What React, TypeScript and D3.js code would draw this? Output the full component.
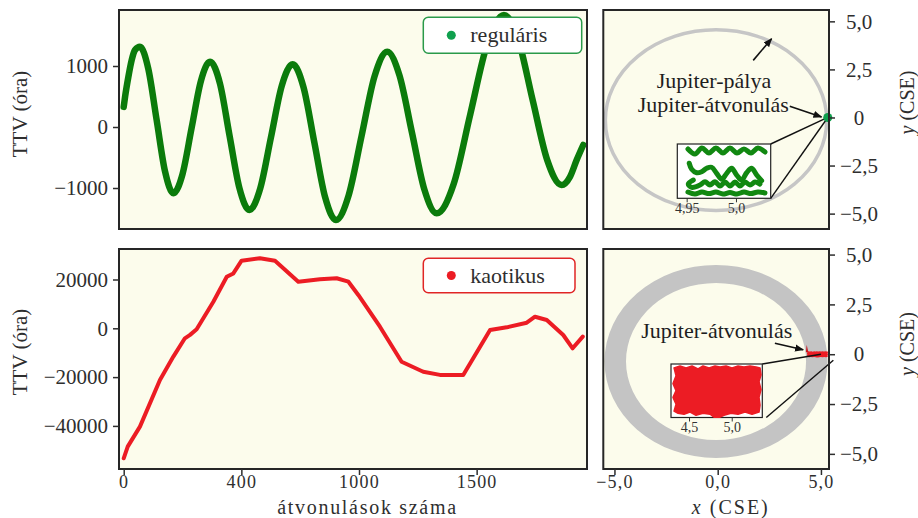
import React, { useEffect, useRef } from 'react';
import * as d3 from 'd3';

// regular system: transit number -> TTV (hours)
const regularN = [0, 6, 20, 34, 48, 69, 104, 140, 176, 211, 250, 289, 328, 367, 409, 450, 492, 534, 580, 626, 672, 718, 764, 810, 856, 902, 956, 1011, 1066, 1120, 1172, 1225, 1278, 1330, 1402, 1473, 1545, 1616, 1677, 1738, 1800, 1861, 1897, 1925, 1953];
const regularTTV = [330, 500, 826, 1098, 1262, 1316, 964, 114, -735, -1087, -771, -8, 754, 1070, 714, -145, -1004, -1360, -1010, -166, 678, 1028, 654, -248, -1151, -1525, -1121, -146, 830, 1234, 846, -90, -1027, -1415, -939, 210, 1360, 1836, 1428, 442, -543, -951, -815, -541, -295];

// chaotic system
const chaoticN = [0, 17, 69, 154, 211, 260, 282, 310, 381, 438, 466, 501, 579, 643, 742, 834, 905, 955, 997, 1089, 1181, 1273, 1344, 1443, 1557, 1628, 1713, 1748, 1798, 1868, 1908, 1951];
const chaoticTTV = [-53280, -48500, -40300, -21200, -11600, -4100, -2700, -400, 10900, 21100, 22500, 27700, 28700, 27700, 19100, 20100, 20500, 19100, 13650, 660, -13700, -17800, -19100, -19100, -700, 400, 2300, 4750, 3400, -2750, -8200, -3400];

// tick values / labels
const regTicks = [-1000, 0, 1000];
const regTickLabels = ['\u22121000', '0', '1000'];
const chaTicks = [-40000, -20000, 0, 20000];
const chaTickLabels = ['\u221240000', '\u221220000', '0', '20000'];
const transitTicks = [0, 500, 1000, 1500];
const transitTickLabels = ['0', '400', '1000', '1500'];
const posYTicks = [-5, -2.5, 0, 2.5, 5];
const posYTickLabels = ['\u22125,0', '\u22122,5', '0', '2,5', '5,0'];
const posXTicks = [-5, 0, 5];
const posXTickLabels = ['\u22125,0', '0,0', '5,0'];
const insetTopTicks = [4.95, 5.0];
const insetTopTickLabels = ['4,95', '5,0'];
const insetBotTicks = [4.5, 5.0];
const insetBotTickLabels = ['4,5', '5,0'];

// orbits (CSE): centre and radii
const orbitTopCenter = [-0.08, -0.14];
const orbitTopRadii = [5.36, 4.7];
const ringBotCenter = [-0.08, -0.36];
const ringBotOuter = [5.4, 4.84];
const ringBotInner = [4.36, 3.94];

// Jupiter position at transit, regular case
const jupiterRegular = [5.33, 0];
// zoomed Jupiter positions, regular case (x, y in CSE)
const insetRow1 = [[4.9513, 0.0222], [4.9584, 0.0172], [4.9655, 0.0232], [4.9726, 0.0182], [4.9797, 0.0232], [4.9868, 0.0182], [4.9939, 0.0232], [5.001, 0.0182], [5.0081, 0.0222], [5.0152, 0.0182], [5.0223, 0.0232], [5.0294, 0.0192]];
const insetRow2 = [[4.9526, 0.0079], [4.9551, 0.0019], [4.9601, -0.0016], [4.9652, -0.0006], [4.9703, 0.0029], [4.9753, 0.0039], [4.9804, -0.0022], [4.9855, -0.0082], [4.9906, -0.0022], [4.9956, 0.0029], [5.0007, -0.0039], [5.0058, -0.0089], [5.0108, -0.0016], [5.0159, 0.0029], [5.021, -0.0039], [5.026, -0.0096]];
const insetRow3 = [[4.9567, -0.0089], [4.9516, -0.0129], [4.9551, -0.0162], [4.9635, -0.0139], [4.9686, -0.0106], [4.9736, -0.0139], [4.9787, -0.0106], [4.9838, -0.0149], [4.9889, -0.0109], [4.9939, -0.0149], [4.999, -0.0109], [5.004, -0.0149], [5.0091, -0.0109], [5.0142, -0.0139], [5.0193, -0.0109], [5.0243, -0.0129]];
const insetRow4 = [[4.9513, -0.0209], [4.9584, -0.0229], [4.9655, -0.0209], [4.9726, -0.0224], [4.9797, -0.0209], [4.9868, -0.0229], [4.9939, -0.0214], [5.001, -0.0229], [5.0081, -0.0209], [5.0152, -0.0224], [5.0223, -0.0209], [5.0294, -0.0219]];

// chaotic case: outline of Jupiter transit positions (x, y in CSE)
const chaoticCloud = [
  [4.3244, 0.136], [4.3946, 0.148], [4.4649, 0.136], [4.5351, 0.148], [4.6054, 0.13], [4.6639, 0.148], [4.7342, 0.136], [4.8044, 0.148], [4.863, 0.142], [4.9333, 0.148], [5.0035, 0.136], [5.0738, 0.148], [5.144, 0.142], [5.2143, 0.148], [5.2845, 0.142], [5.3314, 0.136],
  [5.3431, 0.093], [5.3197, 0.051], [5.3431, 0.002], [5.3197, -0.046], [5.3314, -0.094], [5.3197, -0.137],
  [5.2377, -0.15], [5.1557, -0.137], [5.0738, -0.15], [4.9918, -0.144], [4.9098, -0.156], [4.863, -0.168], [4.7927, -0.168], [4.7459, -0.15], [4.6639, -0.144], [4.582, -0.156], [4.5117, -0.137], [4.4415, -0.15], [4.3712, -0.144], [4.3244, -0.131],
  [4.3478, -0.088], [4.3126, -0.046], [4.3478, -0.004], [4.3126, 0.039], [4.3478, 0.087],
];
const chaoticSpike = [[4.27, 0.1], [4.31, 0.47], [4.39, 0.1]];

// annotation anchors (CSE)
const orbitArrow = [[1.72, 2.97], [2.61, 4.1]];
const transitArrowTop = [[3.49, 0.59], [5.03, 0.03]];
const transitArrowBot = [[2.77, 0.55], [4.14, 0.22]];

const FONT = '"Liberation Serif", "Times New Roman", serif';
const INK = '#2e2e2e';
const PANEL_BG = '#fcfcec';
const GREEN = '#0b7b0b';
const GREEN_DOT = '#10a04e';
const RED = '#ec1c24';

function ellipsePath(cx: number, cy: number, rx: number, ry: number) {
  return `M${cx - rx},${cy}A${rx},${ry} 0 1 0 ${cx + rx},${cy}A${rx},${ry} 0 1 0 ${cx - rx},${cy}Z`;
}

const App = () => {
  const ref = useRef<SVGSVGElement>(null);

  useEffect(() => {
    const svg = d3.select(ref.current);
    svg.selectAll('*').remove();

    const left = [119, 587];
    const right = [603.3, 829];
    const top = [10, 229];
    const bot = [249, 469];

    const xN = d3.scaleLinear().domain([-20, 1969]).range(left);
    const yReg = d3.scaleLinear().domain([-1672, 1918]).range([top[1], top[0]]);
    const yCha = d3.scaleLinear().domain([-57660, 32500]).range([bot[1], bot[0]]);
    const xPos = d3.scaleLinear().domain([-5.54, 5.39]).range(right);
    const yPosT = d3.scaleLinear().domain([-5.8, 5.59]).range([top[1], top[0]]);
    const yPosB = d3.scaleLinear().domain([-5.76, 5.28]).range([bot[1], bot[0]]);

    const xInT = d3.scaleLinear().domain([4.9405, 5.0352]).range([677.3, 770.7]);
    const yInT = d3.scaleLinear().domain([-0.0272, 0.0272]).range([198.3, 144]);
    const xInB = d3.scaleLinear().domain([4.289, 5.358]).range([671, 762.3]);
    const yInB = d3.scaleLinear().domain([-0.17, 0.16]).range([417.5, 364]);

    const defs = svg.append('defs');
    defs.append('marker')
      .attr('id', 'arrowhead')
      .attr('viewBox', '0 0 10 10')
      .attr('refX', 9).attr('refY', 5)
      .attr('markerWidth', 9).attr('markerHeight', 9)
      .attr('markerUnits', 'userSpaceOnUse')
      .attr('orient', 'auto')
      .append('path').attr('d', 'M0,1L10,5L0,9Z').attr('fill', '#111');

    const panels = [
      { id: 'tl', x: left, y: top },
      { id: 'bl', x: left, y: bot },
      { id: 'tr', x: right, y: top },
      { id: 'br', x: right, y: bot },
    ];
    panels.forEach(p => {
      defs.append('clipPath').attr('id', 'clip-' + p.id)
        .append('rect')
        .attr('x', p.x[0]).attr('y', p.y[0])
        .attr('width', p.x[1] - p.x[0]).attr('height', p.y[1] - p.y[0]);
      svg.append('rect')
        .attr('x', p.x[0]).attr('y', p.y[0])
        .attr('width', p.x[1] - p.x[0]).attr('height', p.y[1] - p.y[0])
        .attr('fill', PANEL_BG);
    });

    // ---- top left: regular TTV
    const regLine = d3.line<number>()
      .x((d, i) => xN(regularN[i]))
      .y(d => yReg(d))
      .curve(d3.curveMonotoneX);
    svg.append('g').attr('clip-path', 'url(#clip-tl)')
      .append('path')
      .attr('d', regLine(regularTTV))
      .attr('fill', 'none')
      .attr('stroke', GREEN)
      .attr('stroke-width', 6.5)
      .attr('stroke-linecap', 'round')
      .attr('stroke-linejoin', 'round');

    // ---- bottom left: chaotic TTV
    const chaLine = d3.line<number>()
      .x((d, i) => xN(chaoticN[i]))
      .y(d => yCha(d));
    svg.append('g').attr('clip-path', 'url(#clip-bl)')
      .append('path')
      .attr('d', chaLine(chaoticTTV))
      .attr('fill', 'none')
      .attr('stroke', RED)
      .attr('stroke-width', 4)
      .attr('stroke-linecap', 'round')
      .attr('stroke-linejoin', 'round');

    // legends
    const legend = (x: number, y: number, w: number, h: number, color: string, border: string, label: string) => {
      const g = svg.append('g');
      g.append('rect').attr('x', x).attr('y', y).attr('width', w).attr('height', h)
        .attr('rx', 5).attr('fill', '#fff').attr('stroke', border).attr('stroke-width', 1.5);
      g.append('circle').attr('cx', x + 28).attr('cy', y + h / 2).attr('r', 4.5).attr('fill', color);
      g.append('text').attr('x', x + 47).attr('y', y + h / 2 + 7)
        .attr('fill', INK).style('font-family', FONT).style('font-size', '22px').text(label);
    };
    legend(423.3, 17.3, 158.4, 36, GREEN_DOT, '#2a9a4a', 'reguláris');
    legend(423.3, 258.3, 151.7, 34.4, RED, '#e02626', 'kaotikus');

    // ---- top right: positions, regular case
    const tr = svg.append('g').attr('clip-path', 'url(#clip-tr)');
    tr.append('path')
      .attr('d', ellipsePath(xPos(orbitTopCenter[0]), yPosT(orbitTopCenter[1]),
        xPos(orbitTopRadii[0]) - xPos(0), yPosT(0) - yPosT(orbitTopRadii[1])))
      .attr('fill', 'none').attr('stroke', '#c6c6c6').attr('stroke-width', 3.5);

    const annot = (g: any, x: number, y: number, label: string) =>
      g.append('text').attr('x', x).attr('y', y).attr('text-anchor', 'middle')
        .attr('fill', '#1e1e1e').style('font-family', FONT).style('font-size', '22px').text(label);
    annot(svg, xPos(-0.18), yPosT(1.52), 'Jupiter-pálya');
    annot(svg, xPos(-0.21), yPosT(0.28), 'Jupiter-átvonulás');

    const arrow = (pts: number[][], ys: any) =>
      svg.append('line')
        .attr('x1', xPos(pts[0][0])).attr('y1', ys(pts[0][1]))
        .attr('x2', xPos(pts[1][0])).attr('y2', ys(pts[1][1]))
        .attr('stroke', '#111').attr('stroke-width', 1.6)
        .attr('marker-end', 'url(#arrowhead)');
    arrow(orbitArrow, yPosT);
    arrow(transitArrowTop, yPosT);

    const jx = xPos(jupiterRegular[0]);
    const jy = yPosT(jupiterRegular[1]);
    // connector lines from inset to Jupiter
    [[xInT.range()[1], yInT.range()[1]], [xInT.range()[1], yInT.range()[0]]].forEach(c => {
      svg.append('line').attr('x1', c[0]).attr('y1', c[1]).attr('x2', jx).attr('y2', jy)
        .attr('stroke', '#111').attr('stroke-width', 1.4);
    });
    svg.append('circle').attr('cx', jx).attr('cy', jy).attr('r', 4.5).attr('fill', GREEN_DOT);

    // inset, regular
    svg.append('rect')
      .attr('x', xInT.range()[0]).attr('y', yInT.range()[1])
      .attr('width', xInT.range()[1] - xInT.range()[0]).attr('height', yInT.range()[0] - yInT.range()[1])
      .attr('fill', '#fff').attr('stroke', '#222').attr('stroke-width', 1.2);
    const inLine = d3.line<number[]>().x(d => xInT(d[0])).y(d => yInT(d[1])).curve(d3.curveCatmullRom);
    [insetRow1, insetRow2, insetRow3, insetRow4].forEach(row => {
      svg.append('path').attr('d', inLine(row)).attr('fill', 'none')
        .attr('stroke', '#118811').attr('stroke-width', 5)
        .attr('stroke-linecap', 'round').attr('stroke-linejoin', 'round');
    });

    const insetAxis = (scale: any, y: number, ticks: number[], labels: string[]) => {
      const g = svg.append('g').attr('transform', `translate(0,${y})`)
        .call(d3.axisBottom(scale).tickValues(ticks).tickSize(4).tickPadding(1)
          .tickFormat((d, i) => labels[i]));
      g.select('.domain').remove();
      g.selectAll('.tick line').attr('stroke', '#333').attr('stroke-width', 1);
      g.selectAll('.tick text').attr('fill', '#333').style('font-family', FONT).style('font-size', '14px');
    };
    insetAxis(xInT, yInT.range()[0], insetTopTicks, insetTopTickLabels);

    // ---- bottom right: positions, chaotic case
    const br = svg.append('g').attr('clip-path', 'url(#clip-br)');
    const cx = xPos(ringBotCenter[0]);
    const cy = yPosB(ringBotCenter[1]);
    br.append('path')
      .attr('d', ellipsePath(cx, cy, xPos(ringBotOuter[0]) - xPos(0), yPosB(0) - yPosB(ringBotOuter[1])) +
        ellipsePath(cx, cy, xPos(ringBotInner[0]) - xPos(0), yPosB(0) - yPosB(ringBotInner[1])))
      .attr('fill', '#c4c4c4').attr('fill-rule', 'evenodd');

    const cloud = d3.line<number[]>().x(d => xPos(d[0])).y(d => yPosB(d[1]));
    br.append('path').attr('d', cloud(chaoticCloud) + 'Z').attr('fill', RED);
    br.append('path').attr('d', cloud(chaoticSpike) + 'Z').attr('fill', '#c8121a');

    annot(svg, xPos(-0.05), yPosB(0.82), 'Jupiter-átvonulás');
    arrow(transitArrowBot, yPosB);

    svg.append('line').attr('x1', xInB.range()[1]).attr('y1', yInB.range()[1])
      .attr('x2', xPos(5.0)).attr('y2', yPosB(0))
      .attr('stroke', '#111').attr('stroke-width', 1.4);
    svg.append('line').attr('x1', xInB.range()[1] + 4).attr('y1', yInB.range()[0])
      .attr('x2', xPos(5.6)).attr('y2', yPosB(-0.3))
      .attr('stroke', '#111').attr('stroke-width', 1.4);

    svg.append('rect')
      .attr('x', xInB.range()[0]).attr('y', yInB.range()[1])
      .attr('width', xInB.range()[1] - xInB.range()[0]).attr('height', yInB.range()[0] - yInB.range()[1])
      .attr('fill', '#fff').attr('stroke', '#222').attr('stroke-width', 1.2);
    const inCloud = d3.line<number[]>().x(d => xInB(d[0])).y(d => yInB(d[1]));
    svg.append('path').attr('d', inCloud(chaoticCloud) + 'Z').attr('fill', RED)
      .attr('stroke', RED).attr('stroke-width', 1.5).attr('stroke-linejoin', 'round');
    insetAxis(xInB, yInB.range()[0], insetBotTicks, insetBotTickLabels);

    // ---- frames
    panels.forEach(p => {
      svg.append('rect')
        .attr('x', p.x[0]).attr('y', p.y[0])
        .attr('width', p.x[1] - p.x[0]).attr('height', p.y[1] - p.y[0])
        .attr('fill', 'none').attr('stroke', '#262626').attr('stroke-width', 2);
    });

    // ---- axes
    const styleAxis = (g: any, anchor?: string, dx?: number, size = 21) => {
      g.select('.domain').remove();
      g.selectAll('.tick line').attr('stroke', INK).attr('stroke-width', 1.5);
      const t = g.selectAll('.tick text').attr('fill', INK)
        .style('font-family', FONT).style('font-size', size + 'px');
      if (anchor) t.attr('text-anchor', anchor);
      if (dx !== undefined) t.attr('x', dx);
      if (size < 21) t.style('letter-spacing', '1.2px');
    };

    styleAxis(svg.append('g').attr('transform', `translate(${left[0]},0)`)
      .call(d3.axisLeft(yReg).tickValues(regTicks).tickSize(6).tickPadding(5)
        .tickFormat((d, i) => regTickLabels[i])));
    styleAxis(svg.append('g').attr('transform', `translate(${left[0]},0)`)
      .call(d3.axisLeft(yCha).tickValues(chaTicks).tickSize(6).tickPadding(5)
        .tickFormat((d, i) => chaTickLabels[i])));
    styleAxis(svg.append('g').attr('transform', `translate(0,${bot[1]})`)
      .call(d3.axisBottom(xN).tickValues(transitTicks).tickSize(6).tickPadding(0)
        .tickFormat((d, i) => transitTickLabels[i])), undefined, undefined, 18);

    styleAxis(svg.append('g').attr('transform', `translate(${right[1]},0)`)
      .call(d3.axisRight(yPosT).tickValues(posYTicks).tickSize(6)
        .tickFormat((d, i) => posYTickLabels[i])), 'middle', 30);
    styleAxis(svg.append('g').attr('transform', `translate(${right[1]},0)`)
      .call(d3.axisRight(yPosB).tickValues(posYTicks).tickSize(6)
        .tickFormat((d, i) => posYTickLabels[i])), 'middle', 30);
    styleAxis(svg.append('g').attr('transform', `translate(0,${bot[1]})`)
      .call(d3.axisBottom(xPos).tickValues(posXTicks).tickSize(6).tickPadding(0)
        .tickFormat((d, i) => posXTickLabels[i])), undefined, undefined, 18);

    // ---- axis titles
    const title = (x: number, y: number, rot: number, size: number) =>
      svg.append('text')
        .attr('transform', `translate(${x},${y}) rotate(${rot})`)
        .attr('text-anchor', 'middle').attr('fill', INK)
        .style('font-family', FONT).style('font-size', size + 'px');

    title(27, 114, -90, 21).text('TTV (óra)');
    title(27, 352, -90, 21).text('TTV (óra)');
    title(367.5, 513.5, 0, 20).style('letter-spacing', '1.7px').text('átvonulások száma');
    const xt = title(730.8, 513.5, 0, 20).style('letter-spacing', '2px');
    xt.append('tspan').style('font-style', 'italic').text('x');
    xt.append('tspan').text(' (CSE)');
    [102.5, 344].forEach(cy0 => {
      const yt = title(914, cy0, -90, 20);
      yt.append('tspan').style('font-style', 'italic').text('y');
      yt.append('tspan').text(' (CSE)');
    });
  }, []);

  return (
    <svg ref={ref} width={918} height={518}
      style={{ position: 'absolute', left: 0, top: 0, background: '#fff' }} />
  );
};

export default App;
